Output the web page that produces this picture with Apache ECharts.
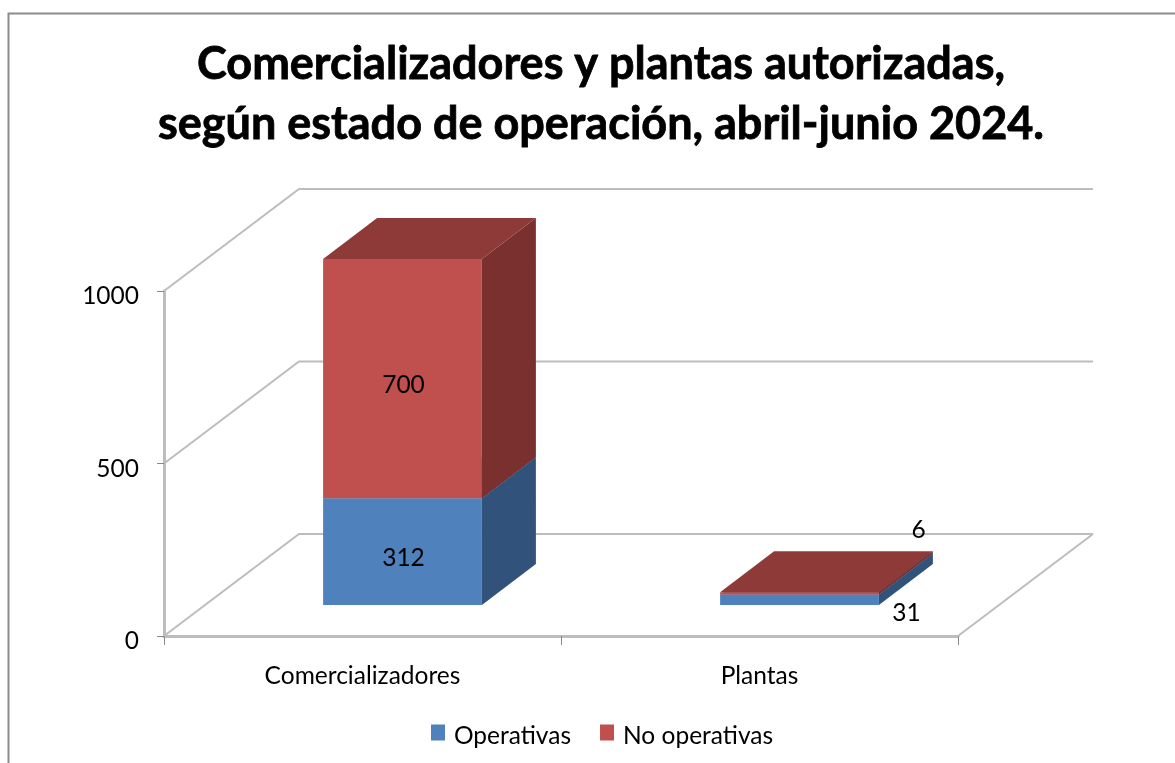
<!DOCTYPE html>
<html>
<head>
<meta charset="utf-8">
<style>
  html, body { margin: 0; padding: 0; background: #fff; }
  #chart { width: 1175px; height: 763px; }
</style>
<script src="https://cdn.jsdelivr.net/npm/echarts@6/dist/echarts.min.js"></script>
</head>
<body>
<div id="chart"></div>
<script>
  const categories = ['Comercializadores', 'Plantas']
  const operativas = [312, 31]
  const noOperativas = [700, 6]
  const yTicks = [0, 500, 1000]

  // fake 3d: how far the back wall and the bars are pushed in pixels
  const wallDepth = { x: 135, y: -102 }
  const barShift = { x: 40, y: -31 }
  const barDepth = { x: 54, y: -41 }
  const barRatio = 0.4
  const barScale = 0.991 // bars stand further back than the axis, so a bit shorter
  const labelFont = 'Lato'
  const labelSize = 24.5
  const wallColor = '#bdbdbd'

  // small bars have their label moved outside, by category and series
  const labelOffset = {
    '1-0': { x: 107, y: 13 },
    '1-1': { x: 119, y: -63 }
  }

  function stackRows(values, below) {
    return values.map(function (v, i) {
      const base = below ? below[i] : 0
      return [i, base, base + v, v]
    })
  }

  function renderWall(params, api) {
    const sys = params.coordSys
    const y = api.coord([0, api.value(1)])[1]
    const left = sys.x
    const children = [{
      type: 'polyline',
      shape: { points: [
        [left, y],
        [left + wallDepth.x, y + wallDepth.y],
        [left + sys.width + wallDepth.x, y + wallDepth.y]
      ] },
      style: { stroke: wallColor, lineWidth: 2, fill: null }
    }]
    if (api.value(1) === 0) {
      children.push({
        type: 'line',
        shape: { x1: left + sys.width, y1: y, x2: left + sys.width + wallDepth.x, y2: y + wallDepth.y },
        style: { stroke: wallColor, lineWidth: 2 }
      })
    }
    return { type: 'group', children: children }
  }

  function barRenderer(seriesIndex, colors) {
    return function (params, api) {
      const cat = api.value(0)
      const zero = api.coord([cat, 0])
      const low = api.coord([cat, api.value(1)])
      const high = api.coord([cat, api.value(2)])
      const w = api.size([1, 0])[0] * barRatio
      const x0 = low[0] + barShift.x - w / 2
      const x1 = x0 + w
      const y0 = zero[1] + (low[1] - zero[1]) * barScale + barShift.y
      const y1 = zero[1] + (high[1] - zero[1]) * barScale + barShift.y
      const dx = barDepth.x
      const dy = barDepth.y
      const off = labelOffset[cat + '-' + seriesIndex] || { x: 1, y: 6 }
      return {
        type: 'group',
        children: [
          { type: 'polygon', shape: { points: [[x1, y0], [x1 + dx, y0 + dy], [x1 + dx, y1 + dy], [x1, y1]] }, style: { fill: colors.side } },
          { type: 'polygon', shape: { points: [[x0, y1], [x1, y1], [x1 + dx, y1 + dy], [x0 + dx, y1 + dy]] }, style: { fill: colors.top } },
          { type: 'rect', shape: { x: x0, y: y1, width: w, height: y0 - y1 }, style: { fill: colors.front } },
          {
            type: 'text',
            z2: 10,
            style: {
              text: String(api.value(3)),
              x: (x0 + x1) / 2 + off.x,
              y: (y0 + y1) / 2 + off.y,
              align: 'center',
              verticalAlign: 'middle',
              font: labelSize + 'px ' + labelFont,
              fill: '#000'
            }
          }
        ]
      }
    }
  }

  const chart = echarts.init(document.getElementById('chart'))
  chart.setOption({
    animation: false,
    backgroundColor: '#fff',
    title: {
      text: 'Comercializadores y plantas autorizadas,\nsegún estado de operación, abril-junio 2024.',
      left: 596,
      top: 29,
      textAlign: 'center',
      textStyle: {
        fontFamily: labelFont,
        fontWeight: 'bold',
        fontSize: 45,
        lineHeight: 60,
        color: '#000',
        textBorderColor: '#000',
        textBorderWidth: 0.8
      }
    },
    legend: {
      data: ['Operativas', 'No operativas'],
      left: 431,
      top: 724,
      padding: 0,
      // square sits in the upper part of the icon box so the text hangs lower than it
      icon: 'path://M0 0H14V16H0ZM14 24L14 24Z',
      itemWidth: 14,
      itemHeight: 24,
      itemGap: 29,
      textStyle: { fontFamily: labelFont, fontSize: labelSize, color: '#000', padding: [0, 0, 0, 4] }
    },
    grid: { left: 164, top: 291, width: 794, height: 345 },
    xAxis: {
      type: 'category',
      data: categories,
      axisLine: { lineStyle: { color: wallColor, width: 3 } },
      axisTick: { show: true, length: 9, lineStyle: { color: '#888', width: 1 } },
      axisLabel: { margin: 28, fontFamily: labelFont, fontSize: labelSize, color: '#000' }
    },
    yAxis: {
      type: 'value',
      min: 0,
      max: 1000,
      interval: 500,
      splitLine: { show: false },
      axisLine: { show: true, lineStyle: { color: wallColor, width: 3 } },
      axisTick: { show: true, length: 7, lineStyle: { color: '#888', width: 1 } },
      axisLabel: {
        margin: 25,
        verticalAlign: 'top',
        lineHeight: 11,
        fontFamily: labelFont,
        fontSize: labelSize,
        color: '#000',
        formatter: function (v) { return String(v) }
      }
    },
    graphic: [{
      type: 'rect',
      shape: { x: 8.5, y: 13.5, width: 1300, height: 900 },
      style: { fill: null, stroke: '#8c8c8c', lineWidth: 2 },
      silent: true
    }],
    series: [
      {
        name: 'paredes',
        type: 'custom',
        silent: true,
        renderItem: renderWall,
        encode: { x: 0, y: 1 },
        data: yTicks.map(function (v) { return [0, v] }),
        z: 1
      },
      {
        name: 'Operativas',
        type: 'custom',
        itemStyle: { color: '#4f81bd' },
        renderItem: barRenderer(0, { front: '#4f81bd', side: '#31527a', top: '#3d6596' }),
        encode: { x: 0, y: [1, 2] },
        data: stackRows(operativas),
        z: 3
      },
      {
        name: 'No operativas',
        type: 'custom',
        itemStyle: { color: '#c0504d' },
        renderItem: barRenderer(1, { front: '#c0504d', side: '#7a302e', top: '#8e3a38' }),
        encode: { x: 0, y: [1, 2] },
        data: stackRows(noOperativas, operativas),
        z: 4
      }
    ]
  })
</script>
</body>
</html>
